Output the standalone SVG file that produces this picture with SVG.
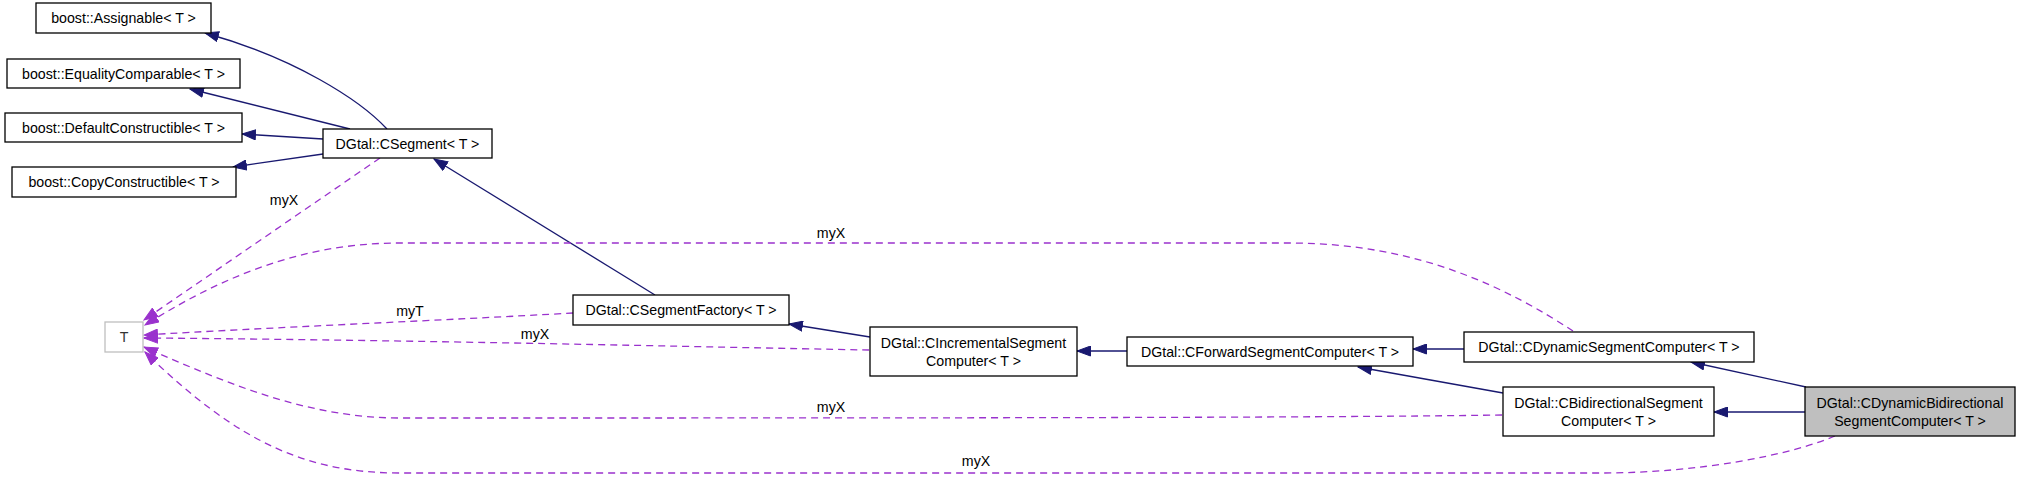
<svg xmlns="http://www.w3.org/2000/svg" width="2021" height="481" viewBox="0 0 2021 481">
<style>
text{font-family:"Liberation Sans",Arial,sans-serif;font-size:14.2px;fill:#000}
.n rect{fill:#fff;stroke:#000;stroke-width:1.3}
.n text{text-anchor:middle}
#nT rect{stroke:#bfbfbf}
#nT text{fill:#333}
#nDB rect{fill:#bfbfbf}
.b{fill:none;stroke:#191970;stroke-width:1.3;marker-end:url(#ab)}
.p{fill:none;stroke:#9a32cd;stroke-width:1.3;stroke-dasharray:7,5;marker-end:url(#ap)}
.l{text-anchor:middle}
</style>
<defs>
<marker id="ab" markerUnits="userSpaceOnUse" markerWidth="15" markerHeight="11" refX="14" refY="5.5" orient="auto"><path d="M0.5,0.5 L14,5.5 L0.5,10.5 z" fill="#191970" stroke="#191970"/></marker>
<marker id="ap" markerUnits="userSpaceOnUse" markerWidth="15" markerHeight="11" refX="14" refY="5.5" orient="auto"><path d="M0.5,0.5 L14,5.5 L0.5,10.5 z" fill="#9a32cd" stroke="#9a32cd"/></marker>
</defs>
<g id="edges">
<path class="b" d="M387,129 C360,100 295,58 205,33"/>
<path class="b" d="M350,129 L190,89"/>
<path class="b" d="M323,139 L242,134"/>
<path class="b" d="M323,154 L233,167"/>
<path class="b" d="M655,295 L434,159"/>
<path class="b" d="M870,337 L789,324"/>
<path class="b" d="M1127,351 L1077,351"/>
<path class="b" d="M1464,349 L1413,349"/>
<path class="b" d="M1503,393 L1358,367"/>
<path class="b" d="M1806,387 L1691,362"/>
<path class="b" d="M1805,412 L1714,412"/>
<path class="p" d="M380,158 L144,320"/>
<path class="p" d="M1573,331 C1510,290 1420,243 1290,243 L400,243 C320,243 240,265 145,325"/>
<path class="p" d="M573,313 C450,320 260,328 144,335"/>
<path class="p" d="M869,350 C700,347 420,340 144,338"/>
<path class="p" d="M1502,415 C1300,418 900,418 400,418 C310,418 230,385 144,347"/>
<path class="p" d="M1835,436 C1790,455 1700,473 1600,473 L400,473 C310,473 240,445 145,352"/>
<text class="l" x="284" y="205">myX</text>
<text class="l" x="831" y="238">myX</text>
<text class="l" x="410" y="316">myT</text>
<text class="l" x="535" y="339">myX</text>
<text class="l" x="831" y="412">myX</text>
<text class="l" x="976" y="466">myX</text>
</g>
<g id="nAssignable" class="n"><rect x="36" y="3" width="175" height="30"/><text x="123.5" y="23">boost::Assignable&lt; T &gt;</text></g>
<g id="nEquality" class="n"><rect x="7" y="59" width="233" height="29"/><text x="123.5" y="78.5">boost::EqualityComparable&lt; T &gt;</text></g>
<g id="nDefault" class="n"><rect x="5" y="113" width="237" height="29"/><text x="123.5" y="132.5">boost::DefaultConstructible&lt; T &gt;</text></g>
<g id="nCopy" class="n"><rect x="12" y="167" width="224" height="30"/><text x="124" y="187">boost::CopyConstructible&lt; T &gt;</text></g>
<g id="nCSegment" class="n"><rect x="323" y="129" width="169" height="29"/><text x="407.5" y="148.5">DGtal::CSegment&lt; T &gt;</text></g>
<g id="nT" class="n"><rect x="105" y="322" width="38" height="30"/><text x="124" y="342">T</text></g>
<g id="nFactory" class="n"><rect x="573" y="295" width="216" height="30"/><text x="681" y="315">DGtal::CSegmentFactory&lt; T &gt;</text></g>
<g id="nIncremental" class="n"><rect x="870" y="327" width="207" height="49"/><text x="973.5" y="348">DGtal::CIncrementalSegment</text><text x="973.5" y="366">Computer&lt; T &gt;</text></g>
<g id="nForward" class="n"><rect x="1127" y="337" width="286" height="29"/><text x="1270" y="356.5">DGtal::CForwardSegmentComputer&lt; T &gt;</text></g>
<g id="nDynamic" class="n"><rect x="1464" y="332" width="290" height="30"/><text x="1609" y="352">DGtal::CDynamicSegmentComputer&lt; T &gt;</text></g>
<g id="nBidirectional" class="n"><rect x="1503" y="387" width="211" height="49"/><text x="1608.5" y="408">DGtal::CBidirectionalSegment</text><text x="1608.5" y="426">Computer&lt; T &gt;</text></g>
<g id="nDB" class="n"><rect x="1805" y="387" width="210" height="49"/><text x="1910" y="408">DGtal::CDynamicBidirectional</text><text x="1910" y="426">SegmentComputer&lt; T &gt;</text></g>
</svg>
